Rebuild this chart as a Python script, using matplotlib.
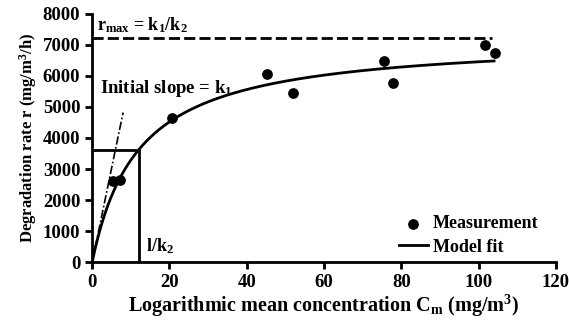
import numpy as np
import matplotlib
matplotlib.use("Agg")
import matplotlib.pyplot as plt

plt.rcParams['font.family'] = ['Liberation Serif', 'DejaVu Serif']
plt.rcParams['font.weight'] = 'bold'
plt.rcParams['axes.labelweight'] = 'bold'
plt.rcParams['mathtext.fontset'] = 'custom'
plt.rcParams['mathtext.rm'] = 'Liberation Serif:bold'
plt.rcParams['mathtext.it'] = 'Liberation Serif:bold'
plt.rcParams['mathtext.bf'] = 'Liberation Serif:bold'

# Measurements
conc = [5.3, 7.2, 20.7, 45.3, 52.0, 75.5, 77.9, 101.7, 104.3]
rate = [2620, 2660, 4645, 6065, 5450, 6480, 5780, 7000, 6740]

# Model parameters (Michaelis-Menten type)
r_max = 7230
K = 12.0          # 1/k2
k1 = r_max / K    # initial slope
c_fit_max = 104.0
slope_end = 8.0

x_ticks = [0, 20, 40, 60, 80, 100, 120]
y_ticks = [0, 1000, 2000, 3000, 4000, 5000, 6000, 7000, 8000]

fig = plt.figure(figsize=(5.69, 3.22), dpi=100)
ax = fig.add_axes([0.162, 0.186, 0.815, 0.771])

cf = np.linspace(0, c_fit_max, 300)
rf = r_max * cf / (K + cf)
ax.plot(cf, rf, color='black', lw=2, label='Model fit', zorder=3)
ax.scatter(conc, rate, s=45, color='black', zorder=4, label='Measurement')

# r_max dashed line
ax.plot([0, 103.5], [r_max, r_max], color='black', lw=2, ls=(0, (4, 1.5)))
# initial slope line
ax.plot([0, slope_end], [0, k1 * slope_end], color='black', lw=1.2, ls=(0, (5, 1.5, 1, 1.5)))
# 1/k2 box
ax.plot([0, K, K], [r_max / 2, r_max / 2, 0], color='black', lw=2)

ax.text(1.3, 7330, r'r$_{\mathrm{max}}$ = k$_1$/k$_2$', fontsize=13, va='bottom', ha='left', fontweight='bold')
ax.text(2.0, 5600, r'Initial slope = k$_1$', fontsize=13.5, va='center', ha='left', fontweight='bold')
ax.text(14, 500, r'l/k$_2$', fontsize=13, va='center', ha='left', fontweight='bold')

ax.set_xlim(0, 120)
ax.set_ylim(0, 8000)
ax.set_xticks(x_ticks)
ax.set_yticks(y_ticks)
ax.set_xticklabels([str(v) for v in x_ticks], fontweight='bold')
ax.set_yticklabels([str(v) for v in y_ticks], fontweight='bold')
ax.tick_params(direction='out', length=5, width=2, labelsize=13.5)
for s in ['top', 'right']:
    ax.spines[s].set_visible(False)
for s in ['left', 'bottom']:
    ax.spines[s].set_linewidth(2)

ax.set_xlabel(r'Logarithmic mean concentration C$_{\mathrm{m}}$ (mg/m$^3$)', fontsize=14.5, labelpad=1, fontweight='bold')
ax.set_ylabel(r'Degradation rate r (mg/m$^3$/h)', fontsize=12, labelpad=3, fontweight='bold')

handles, labels = ax.get_legend_handles_labels()
order = [1, 0]
ax.legend([handles[i] for i in order], [labels[i] for i in order],
          loc='lower right', bbox_to_anchor=(0.99, -0.025), frameon=False,
          prop={'size': 13, 'weight': 'bold'}, handlelength=1.6, handletextpad=0.3,
          labelspacing=0.35, borderpad=0.2)

fig.savefig('out.png', dpi=100)
